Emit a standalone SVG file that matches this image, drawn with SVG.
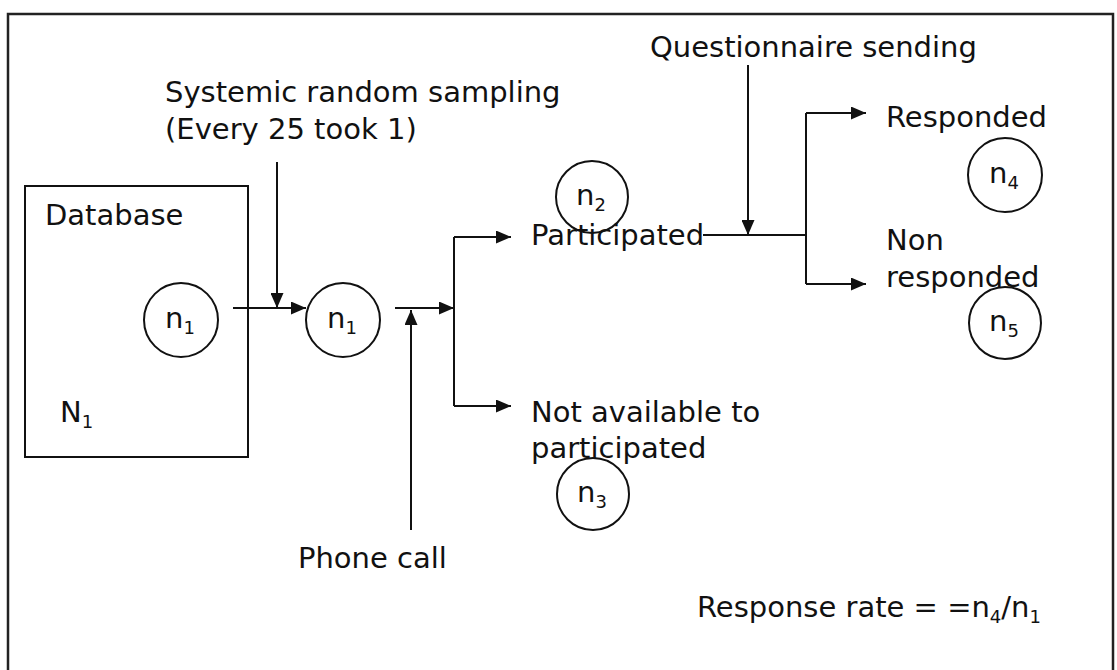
<svg xmlns="http://www.w3.org/2000/svg" width="1117" height="670" viewBox="0 0 1117 670">
<defs>
<marker id="ah" viewBox="0 0 15 13" refX="15" refY="6.5" markerWidth="15" markerHeight="13" markerUnits="userSpaceOnUse" orient="auto">
<path d="M0,0 L15,6.5 L0,13 Z" fill="#111"/>
</marker>
</defs>
<style>
text{font-family:"DejaVu Sans","Liberation Sans",sans-serif;font-size:29px;fill:#111}
.sub{font-size:18px}
.ln{stroke:#111;stroke-width:2;fill:none}
.c{stroke:#111;stroke-width:2;fill:none}
</style>
<rect x="0" y="0" width="1117" height="670" fill="#fff"/>
<rect id="frame" x="8" y="14" width="1105" height="670" fill="none" stroke="#222" stroke-width="2.5"/>
<g id="database">
<rect x="25" y="186" width="223" height="271" class="ln"/>
<text x="45" y="225">Database</text>
<text x="60" y="422">N<tspan class="sub" dy="6">1</tspan></text>
</g>
<g id="n1a"><circle cx="181" cy="320" r="37" class="c"/><text x="165" y="328">n<tspan class="sub" dy="6">1</tspan></text></g>
<g id="n1b"><circle cx="343" cy="320" r="37" class="c"/><text x="327" y="328">n<tspan class="sub" dy="6">1</tspan></text></g>
<g id="n2"><circle cx="592" cy="197" r="36" class="c"/><text x="576" y="205">n<tspan class="sub" dy="6">2</tspan></text></g>
<g id="n3"><circle cx="593" cy="494" r="36" class="c"/><text x="577" y="502">n<tspan class="sub" dy="6">3</tspan></text></g>
<g id="n4"><circle cx="1005" cy="175" r="37" class="c"/><text x="989" y="183">n<tspan class="sub" dy="6">4</tspan></text></g>
<g id="n5"><circle cx="1005" cy="323" r="36" class="c"/><text x="989" y="331">n<tspan class="sub" dy="6">5</tspan></text></g>
<g id="labels">
<text x="165" y="102">Systemic random sampling</text>
<text x="165" y="139">(Every 25 took 1)</text>
<text x="298" y="568">Phone call</text>
<text x="531" y="245">Participated</text>
<text x="531" y="422">Not available to</text>
<text x="531" y="458">participated</text>
<text x="650" y="57">Questionnaire sending</text>
<text x="886" y="127">Responded</text>
<text x="886" y="250">Non</text>
<text x="886" y="287">responded</text>
<text x="697" y="617">Response rate = =n<tspan class="sub" dy="6">4</tspan><tspan dy="-6">/n</tspan><tspan class="sub" dy="6">1</tspan></text>
</g>
<g id="connectors">
<line x1="277" y1="162" x2="277" y2="308" class="ln" marker-end="url(#ah)"/>
<line x1="233" y1="308" x2="306" y2="308" class="ln" marker-end="url(#ah)"/>
<line x1="395" y1="308" x2="454" y2="308" class="ln" marker-end="url(#ah)"/>
<line x1="411" y1="530" x2="411" y2="310" class="ln" marker-end="url(#ah)"/>
<polyline points="454,406 454,237" class="ln"/>
<line x1="454" y1="237" x2="511" y2="237" class="ln" marker-end="url(#ah)"/>
<line x1="454" y1="406" x2="511" y2="406" class="ln" marker-end="url(#ah)"/>
<line x1="703" y1="235" x2="806" y2="235" class="ln"/>
<line x1="748" y1="65" x2="748" y2="235" class="ln" marker-end="url(#ah)"/>
<polyline points="806,284 806,113" class="ln"/>
<line x1="806" y1="113" x2="866" y2="113" class="ln" marker-end="url(#ah)"/>
<line x1="806" y1="284" x2="866" y2="284" class="ln" marker-end="url(#ah)"/>
</g>
</svg>
